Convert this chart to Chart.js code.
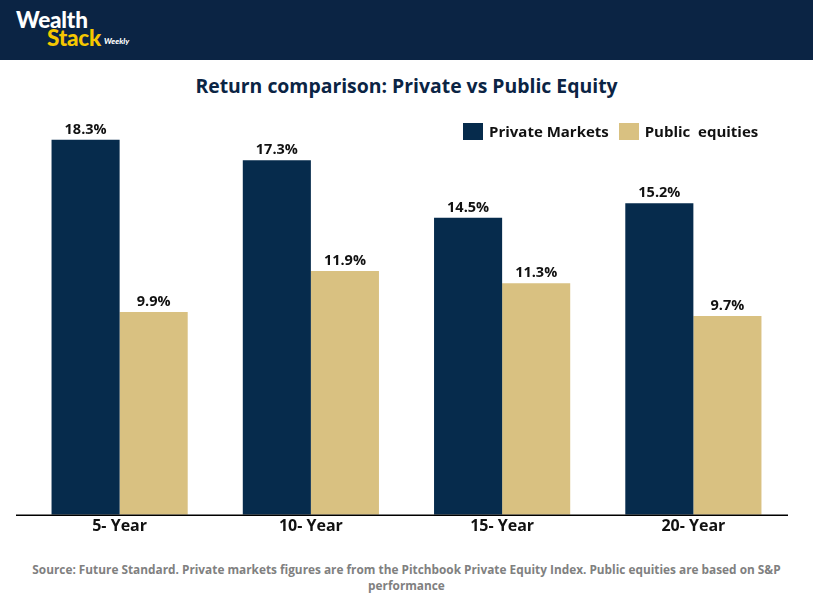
<!DOCTYPE html>
<html><head><meta charset="utf-8">
<script src="https://cdn.jsdelivr.net/npm/chart.js@4.4.1/dist/chart.umd.min.js"></script>
<style>
html,body{margin:0;padding:0;background:#fff;width:813px;height:609px;overflow:hidden;font-family:"Open Sans",sans-serif;}
#hdr{position:absolute;left:0;top:0;width:813px;height:60px;background:#0b2444;}
#logo1{position:absolute;left:16px;top:6px;color:#fff;font:900 22.5px "Lato",sans-serif;letter-spacing:-0.2px;}
#logo2{position:absolute;left:47px;top:24px;color:#f6c700;font:900 22.5px "Lato",sans-serif;letter-spacing:-0.2px;}
#logo3{position:absolute;left:104px;top:36px;color:#fff;font:italic 900 8px "Lato",sans-serif;}
#title{position:absolute;left:0;top:72px;width:813px;text-align:center;color:#0b2444;font:700 19.4px "Open Sans",sans-serif;}
#wrap{position:absolute;left:0;top:100px;width:813px;height:438px;}
#legend{position:absolute;left:463px;top:121px;font:700 15px "Open Sans",sans-serif;color:#111;display:flex;align-items:center;white-space:pre;}
.sw{display:inline-block;width:20px;height:17px;margin-right:6px;}
#src{position:absolute;left:-24px;top:561px;width:861px;text-align:center;color:#808080;font:700 13px "Open Sans",sans-serif;line-height:16px;transform:scaleX(0.91);transform-origin:center;}
</style></head>
<body>
<div id="hdr"><div id="logo1">Wealth</div><div id="logo2">Stack</div><div id="logo3">Weekly</div></div>
<div id="title">Return comparison: Private vs Public Equity</div>
<div id="wrap"><canvas id="c"></canvas></div>
<div id="legend"><span class="sw" style="background:#062b4c"></span>Private Markets  <span class="sw" style="background:#d9c181;margin-left:2px"></span>Public  equities</div>
<div id="src">Source: Future Standard. Private markets figures are from the Pitchbook Private Equity Index. Public equities are based on S&amp;P performance</div>
<script>
const categories = ["5- Year","10- Year","15- Year","20- Year"];
const privateMarkets = [18.3,17.3,14.5,15.2];
const publicEquities = [9.9,11.9,11.3,9.7];
const seriesNames = ["Private Markets","Public  equities"];

const labelPlugin = {
  id:'vals',
  afterDatasetsDraw(chart){
    const ctx = chart.ctx;
    ctx.save();
    ctx.font = '700 14.5px "Open Sans"';
    ctx.fillStyle = '#111';
    ctx.textAlign = 'center';
    ctx.textBaseline = 'bottom';
    chart.data.datasets.forEach((ds,i)=>{
      chart.getDatasetMeta(i).data.forEach((bar,j)=>{
        ctx.fillText(ds.data[j].toFixed(1)+'%', bar.x, bar.y-3);
      });
    });
    const a = chart.chartArea;
    ctx.strokeStyle = '#000'; ctx.lineWidth = 1.5;
    ctx.beginPath(); ctx.moveTo(16, a.bottom+0.5); ctx.lineTo(788, a.bottom+0.5); ctx.stroke();
    ctx.restore();
  }
};

new Chart(document.getElementById('c'),{
  type:'bar',
  data:{labels:categories,datasets:[
    {label:seriesNames[0],data:privateMarkets,backgroundColor:'#062b4c'},
    {label:seriesNames[1],data:publicEquities,backgroundColor:'#d9c181'}
  ]},
  options:{
    responsive:true,maintainAspectRatio:false,animation:false,
    layout:{padding:{left:24,right:24,top:5,bottom:0}},
    plugins:{legend:{display:false},tooltip:{enabled:false}},
    datasets:{bar:{categoryPercentage:0.712,barPercentage:1}},
    scales:{
      x:{grid:{display:false,drawTicks:false},border:{display:false},
         ticks:{color:'#111',font:{family:'"Open Sans"',weight:'700',size:16},padding:2}},
      y:{display:false,min:0,max:20}
    }
  },
  plugins:[labelPlugin]
});
</script>
</body></html>
